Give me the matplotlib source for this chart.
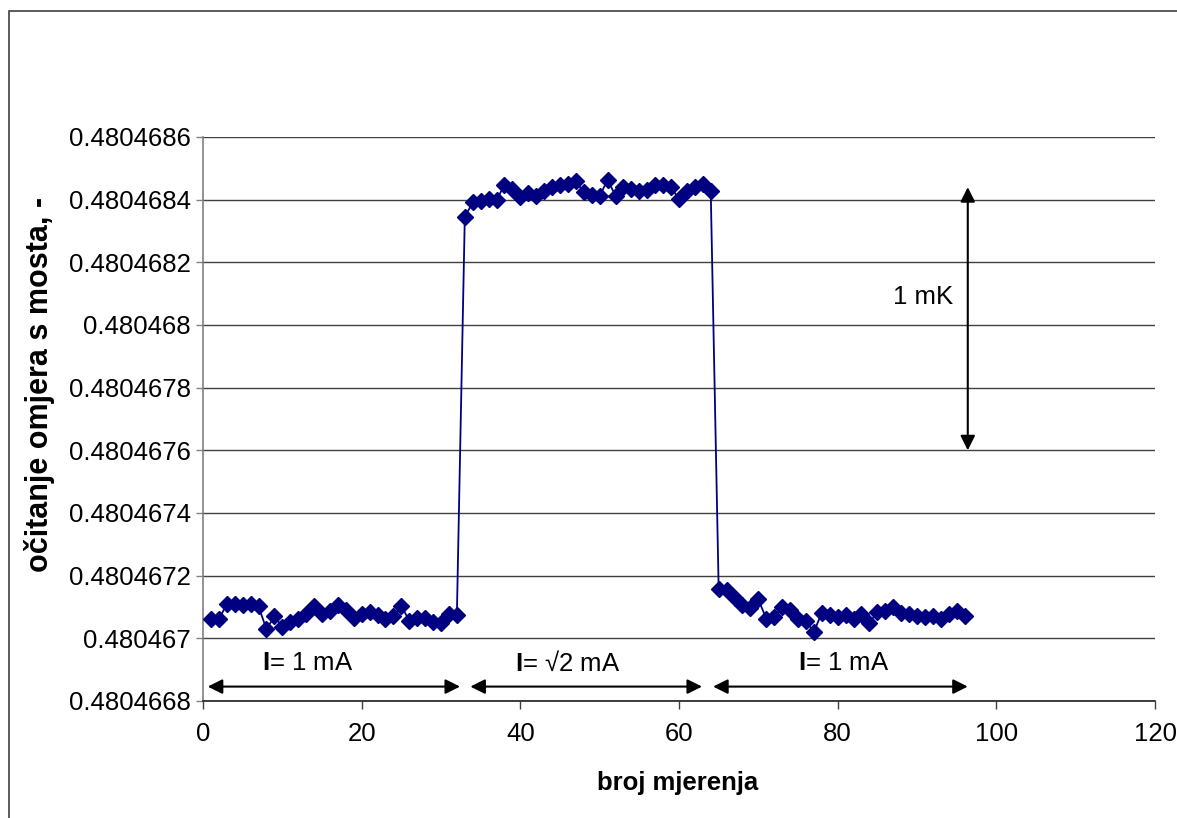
import matplotlib
matplotlib.use("Agg")
import matplotlib.pyplot as plt
from matplotlib.patches import Rectangle

plt.rcParams['font.family'] = ['Liberation Sans', 'DejaVu Sans']
plt.rcParams['mathtext.fontset'] = 'custom'
plt.rcParams['mathtext.rm'] = 'Liberation Sans'
plt.rcParams['mathtext.bf'] = 'Liberation Sans:bold'

# ---- data ----
measurement = list(range(1, 97))
reading = [
    # I = 1 mA
    0.480467061, 0.480467061, 0.480467109, 0.480467109, 0.480467105, 0.480467109,
    0.480467102, 0.480467029, 0.480467070, 0.480467037, 0.480467051, 0.480467062,
    0.480467077, 0.480467102, 0.480467077, 0.480467086, 0.480467107, 0.480467089,
    0.480467066, 0.480467077, 0.480467084, 0.480467075, 0.480467061, 0.480467070,
    0.480467104, 0.480467056, 0.480467064, 0.480467064, 0.480467051, 0.480467050,
    0.480467078, 0.480467074,
    # I = sqrt(2) mA
    0.480468345, 0.480468391, 0.480468397, 0.480468403, 0.480468400, 0.480468446,
    0.480468433, 0.480468409, 0.480468421, 0.480468413, 0.480468427, 0.480468439,
    0.480468447, 0.480468451, 0.480468458, 0.480468425, 0.480468414, 0.480468411,
    0.480468464, 0.480468412, 0.480468441, 0.480468433, 0.480468427, 0.480468430,
    0.480468448, 0.480468448, 0.480468440, 0.480468401, 0.480468428, 0.480468439,
    0.480468450, 0.480468427,
    # I = 1 mA
    0.480467157, 0.480467153, 0.480467130, 0.480467105, 0.480467097, 0.480467124,
    0.480467063, 0.480467067, 0.480467101, 0.480467090, 0.480467062, 0.480467055,
    0.480467020, 0.480467082, 0.480467074, 0.480467067, 0.480467073, 0.480467062,
    0.480467077, 0.480467050, 0.480467083, 0.480467086, 0.480467101, 0.480467082,
    0.480467077, 0.480467070, 0.480467069, 0.480467070, 0.480467063, 0.480467078,
    0.480467087, 0.480467072,
]
x_ticks = [0, 20, 40, 60, 80, 100, 120]
y_ticks = [0.4804668, 0.4804670, 0.4804672, 0.4804674, 0.4804676,
           0.4804678, 0.4804680, 0.4804682, 0.4804684, 0.4804686]
y_tick_labels = ["0.4804668", "0.480467", "0.4804672", "0.4804674", "0.4804676",
                 "0.4804678", "0.480468", "0.4804682", "0.4804684", "0.4804686"]
current_labels = [r"$\mathbf{I}$= 1 mA", r"$\mathbf{I}$= √2 mA", r"$\mathbf{I}$= 1 mA"]
current_spans = [(0.6, 32.4), (33.7, 62.9), (64.3, 96.4)]
current_label_x = [13.2, 46.0, 80.8]
arrow_y = 0.480466846
label_y = 0.48046692
mk_arrow_x = 96.4
mk_span = (0.4804676, 0.48046844)
mk_label = "1 mK"
x_title = "broj mjerenja"
y_title = "očitanje omjera s mosta, -"

FS = 18.5
W, H = 1177, 818
fig = plt.figure(figsize=(W / 100, H / 100), dpi=100)
fig.patches.append(Rectangle((9 / W, -0.1), 1.2, 1 - 11 / H + 0.1,
                             transform=fig.transFigure, fill=False,
                             edgecolor='#404040', linewidth=1.2))
ax = fig.add_axes([203 / W, 1 - 701 / H, (1155 - 203) / W, (701 - 137) / H])

ax.plot(measurement, reading, color='#000080', linewidth=1.3,
        marker='D', markersize=7.8, markerfacecolor='#000080',
        markeredgecolor='#000080', zorder=3)

ax.set_xlim(0, 120)
ax.set_ylim(y_ticks[0], y_ticks[-1])
ax.set_xticks(x_ticks)
ax.set_xticklabels([str(v) for v in x_ticks])
ax.set_yticks(y_ticks)
ax.set_yticklabels(y_tick_labels)
ax.yaxis.grid(True, color='#404040', linewidth=1.0)
ax.set_axisbelow(True)

for s in ['top', 'right']:
    ax.spines[s].set_visible(False)
ax.spines['left'].set_color('#808080')
ax.spines['left'].set_linewidth(1.2)
ax.spines['bottom'].set_color('#202020')
ax.spines['bottom'].set_linewidth(1.2)
ax.tick_params(axis='x', direction='out', length=6, width=1, color='#404040',
               labelsize=FS, pad=9)
ax.tick_params(axis='y', direction='out', length=5, width=1, color='#808080',
               labelsize=FS, pad=4)

fig.text(678 / W, 1 - 783 / H, x_title, ha='center', va='center',
         fontsize=FS, fontweight='bold')
fig.text(40 / W, 1 - 384 / H, y_title, ha='center', va='center',
         rotation=90, fontsize=22, fontweight='bold')

arrow_style = dict(arrowstyle='<|-|>', color='black', lw=1.5,
                   mutation_scale=22, shrinkA=0, shrinkB=0)
for (x0, x1), lab, lx in zip(current_spans, current_labels, current_label_x):
    ax.annotate("", xy=(x0, arrow_y), xytext=(x1, arrow_y),
                arrowprops=arrow_style, annotation_clip=False)
    ax.text(lx, label_y, lab, ha='center', va='center', fontsize=FS)

ax.annotate("", xy=(mk_arrow_x, mk_span[0]), xytext=(mk_arrow_x, mk_span[1]),
            arrowprops=arrow_style)
ax.text(mk_arrow_x - 1.9, 0.48046809, mk_label, ha='right', va='center',
        fontsize=FS)

fig.savefig("out.png", dpi=100)
